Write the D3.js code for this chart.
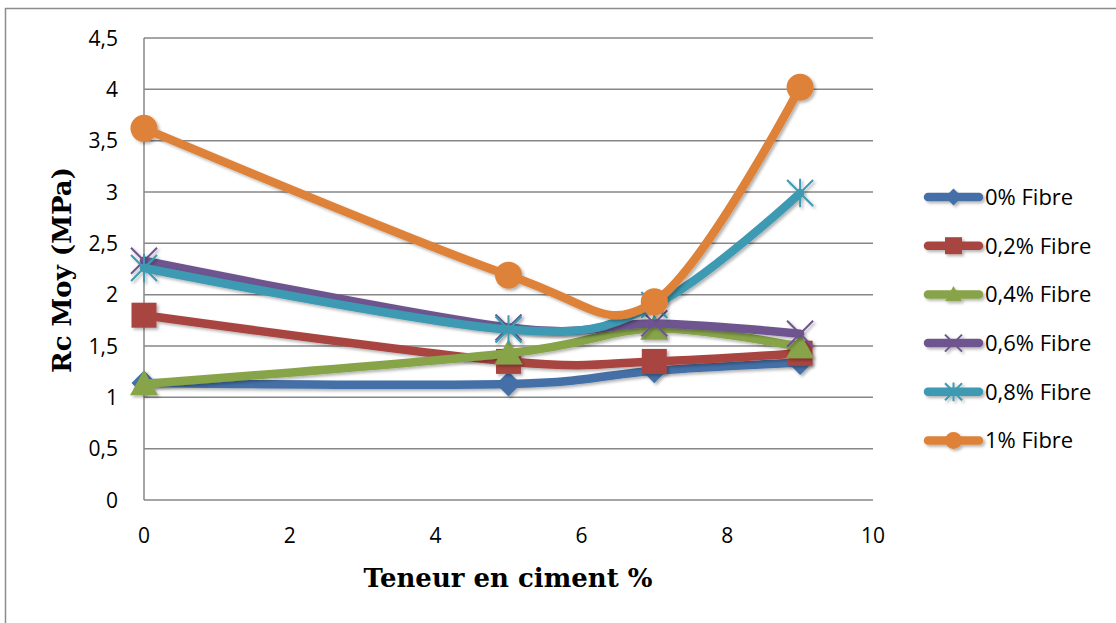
<!DOCTYPE html>
<html>
<head>
<meta charset="utf-8">
<script src="https://cdn.jsdelivr.net/npm/d3@7"></script>
<style>
  body { margin: 0; background: #fff; }
  svg { display: block; }
</style>
</head>
<body>
<div id="chart"></div>
<script>
// values
const xValues = [0, 5, 7, 9];
const seriesNames = ['0% Fibre', '0,2% Fibre', '0,4% Fibre', '0,6% Fibre', '0,8% Fibre', '1% Fibre'];
const fibre0 = [1.14, 1.13, 1.26, 1.34];
const fibre02 = [1.80, 1.35, 1.35, 1.43];
const fibre04 = [1.13, 1.43, 1.67, 1.49];
const fibre06 = [2.33, 1.68, 1.72, 1.62];
const fibre08 = [2.26, 1.66, 1.90, 2.99];
const fibre1 = [3.62, 2.19, 1.93, 4.02];
const yTicks = [0, 0.5, 1, 1.5, 2, 2.5, 3, 3.5, 4, 4.5];
const xTicks = [0, 2, 4, 6, 8, 10];

const colors = ['#4470a7', '#a94441', '#87a44a', '#6e5490', '#3e9ab2', '#dd8239'];
const markers = ['diamond', 'square', 'triangle', 'x', 'star', 'circle'];
const allSeries = [fibre0, fibre02, fibre04, fibre06, fibre08, fibre1];

const w = 1116, h = 623;
const svg = d3.select('#chart').append('svg').attr('width', w).attr('height', h);

const defs = svg.append('defs');
const shadow = defs.append('filter').attr('id', 'shadow')
  .attr('x', '-30%').attr('y', '-30%').attr('width', '160%').attr('height', '160%');
shadow.append('feDropShadow').attr('dx', 2).attr('dy', 2).attr('stdDeviation', 1.8)
  .attr('flood-color', '#000').attr('flood-opacity', 0.3);

// outer chart border (only top and left show in the picture)
svg.append('path')
  .attr('d', 'M5.5,' + h + 'V8.5H' + w)
  .attr('fill', 'none').attr('stroke', '#8c8c8c').attr('stroke-width', 1.5);

const xScale = d3.scaleLinear().domain([0, 10]).range([144, 873]);
const yScale = d3.scaleLinear().domain([0, 4.5]).range([500, 38]);

// horizontal gridlines
svg.append('g').selectAll('line').data(yTicks).enter().append('line')
  .attr('x1', xScale(0)).attr('x2', xScale(10))
  .attr('y1', d => yScale(d)).attr('y2', d => yScale(d))
  .attr('stroke', '#878787').attr('stroke-width', 1.5);

// y axis line
svg.append('line')
  .attr('x1', xScale(0)).attr('x2', xScale(0))
  .attr('y1', yScale(4.5)).attr('y2', yScale(0))
  .attr('stroke', '#878787').attr('stroke-width', 1.5);

const fmt = d => String(d).replace('.', ',');
const tickFont = '"Open Sans", sans-serif';

svg.append('g').selectAll('text').data(yTicks).enter().append('text')
  .attr('x', 118).attr('y', d => yScale(d))
  .attr('dy', '0.36em')
  .attr('text-anchor', 'end')
  .style('font-family', tickFont).style('font-size', '21px')
  .attr('fill', '#000')
  .text(fmt);

svg.append('g').selectAll('text').data(xTicks).enter().append('text')
  .attr('x', d => xScale(d)).attr('y', 535)
  .attr('dy', '0.36em')
  .attr('text-anchor', 'middle')
  .style('font-family', tickFont).style('font-size', '21px')
  .attr('fill', '#000')
  .text(d => d);

// axis titles
svg.append('text')
  .attr('x', 508).attr('y', 578).attr('dy', '0.35em')
  .attr('text-anchor', 'middle')
  .style('font-family', '"DejaVu Serif", serif').style('font-weight', 'bold').style('font-size', '26px')
  .text('Teneur en ciment %');

svg.append('text')
  .attr('transform', 'translate(62,270) rotate(-90)')
  .attr('dy', '0.35em')
  .attr('text-anchor', 'middle')
  .style('font-family', '"DejaVu Serif", serif').style('font-weight', 'bold').style('font-size', '26px')
  .text('Rc Moy (MPa)');

function markerPath(type, s) {
  const r = s / 2;
  switch (type) {
    case 'diamond': return `M0,${-r}L${r},0L0,${r}L${-r},0Z`;
    case 'square': return `M${-r},${-r}H${r}V${r}H${-r}Z`;
    case 'triangle': return `M0,${-r}L${r},${r * 0.8}H${-r}Z`;
    case 'x': return `M${-r},${-r}L${r},${r}M${r},${-r}L${-r},${r}`;
    case 'star': return `M${-r},${-r}L${r},${r}M${r},${-r}L${-r},${r}M0,${-r * 1.1}V${r * 1.1}`;
  }
  return '';
}

function drawMarker(g, type, color, size) {
  if (type === 'circle') {
    g.append('circle').attr('r', size / 2).attr('fill', color);
  } else if (type === 'x' || type === 'star') {
    g.append('path').attr('d', markerPath(type, size))
      .attr('fill', 'none').attr('stroke', color).attr('stroke-width', 2);
  } else {
    g.append('path').attr('d', markerPath(type, size)).attr('fill', color);
  }
}

const line = d3.line()
  .x(d => xScale(d[0]))
  .y(d => yScale(d[1]))
  .curve(d3.curveCatmullRom.alpha(0));

const markerSize = { diamond: 25, square: 25, triangle: 28, x: 26, star: 26, circle: 27 };

allSeries.forEach((vals, i) => {
  const pts = xValues.map((x, j) => [x, vals[j]]);
  const g = svg.append('g').attr('filter', 'url(#shadow)');
  g.append('path')
    .attr('d', line(pts))
    .attr('fill', 'none')
    .attr('stroke', colors[i])
    .attr('stroke-width', 8.5)
    .attr('stroke-linecap', 'round')
    .attr('stroke-linejoin', 'round');
  pts.forEach(p => {
    const m = g.append('g').attr('transform', `translate(${xScale(p[0])},${yScale(p[1])})`);
    drawMarker(m, markers[i], colors[i], markerSize[markers[i]]);
  });
});

// legend
const legend = svg.append('g');
seriesNames.forEach((name, i) => {
  const y = 197 + i * 48.7;
  const g = legend.append('g').attr('filter', 'url(#shadow)');
  g.append('line')
    .attr('x1', 928).attr('x2', 979).attr('y1', y).attr('y2', y)
    .attr('stroke', colors[i]).attr('stroke-width', 8.5).attr('stroke-linecap', 'round');
  const m = g.append('g').attr('transform', `translate(953.5,${y})`);
  drawMarker(m, markers[i], colors[i], 17);
  legend.append('text')
    .attr('x', 985).attr('y', y).attr('dy', '0.36em')
    .style('font-family', tickFont).style('font-size', '22px')
    .text(name);
});
</script>
</body>
</html>
